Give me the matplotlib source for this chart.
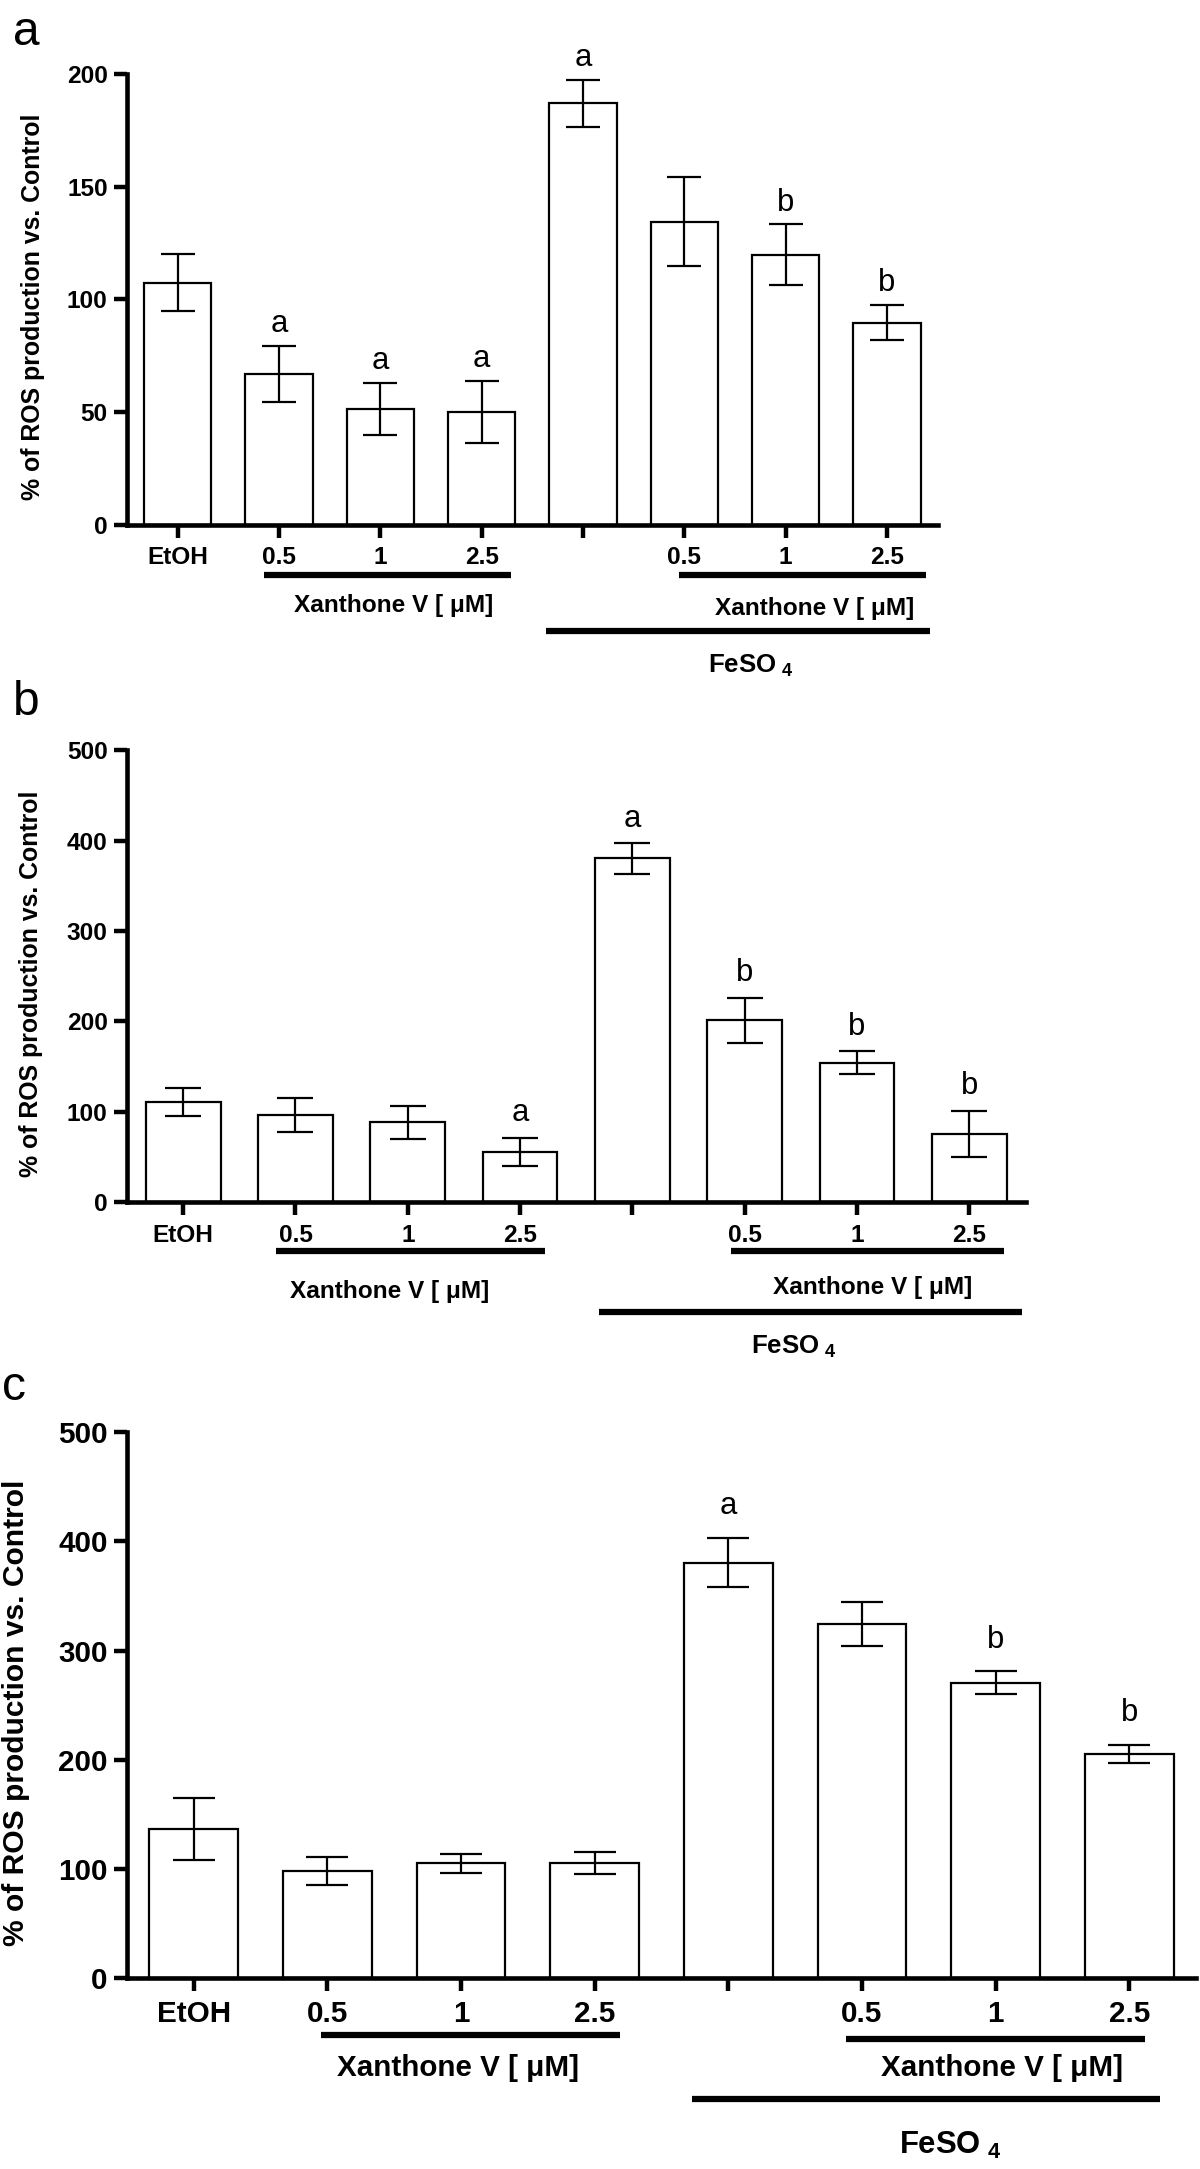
import numpy as np
import matplotlib
matplotlib.use('Agg')
import matplotlib.pyplot as plt

plt.rcParams['font.family'] = ['Liberation Sans', 'DejaVu Sans']
plt.rcParams['mathtext.fontset'] = 'custom'
plt.rcParams['mathtext.rm'] = 'Liberation Sans'
plt.rcParams['mathtext.bf'] = 'Liberation Sans:bold'

# categories (the FeSO4 alone bar has no label)
groups = ['EtOH', '0.5', '1', '2.5', '', '0.5', '1', '2.5']

# panel a
ros_a = [107.4, 67.0, 51.4, 50.0, 186.8, 134.3, 119.8, 89.7]
err_a = [12.5, 12.4, 11.5, 13.8, 10.4, 19.7, 13.4, 7.7]
sig_a = ['', 'a', 'a', 'a', 'a', '', 'b', 'b']

# panel b
ros_b = [111.2, 96.3, 88.4, 55.3, 380.4, 201.1, 154.6, 75.6]
err_b = [15.3, 19.0, 18.3, 15.6, 16.8, 25.2, 12.4, 25.7]
sig_b = ['', '', '', 'a', 'a', 'b', 'b', 'b']

# panel c
ros_c = [136.7, 98.5, 105.2, 105.6, 380.5, 324.1, 270.6, 205.5]
err_c = [28.0, 12.7, 8.4, 10.0, 22.7, 20.3, 10.5, 8.1]
sig_c = ['', '', '', '', 'a', '', 'b', 'b']

ylab = '% of ROS production vs. Control'
xan = 'Xanthone V [ \u03bcM]'
feso = r'FeSO$_{\ \mathbf{4}}$'

W, H = 1200, 2169
fig = plt.figure(figsize=(W / 100, H / 100), dpi=100)


def px(x, y):
    # pixel position -> figure fraction
    return x / W, 1 - y / H


# layout of each panel, in pixels / axes fractions
panels = [
    dict(vals=ros_a, errs=err_a, sig=sig_a, ymax=200, step=50,
         rect=(127, 73.7, 937.5, 525), fs=17.6, cap=11.9, gap=10,
         lines=[(0.85, 3.29, -0.110), (4.95, 7.39, -0.111), (3.64, 7.43, -0.235)],
         texts=[(2.13, -0.179), (6.29, -0.186)], feso=(5.66, -0.312),
         label='a', lab_xy=(26, 44.6), ylab_xy=(33.5, 307)),
    dict(vals=ros_b, errs=err_b, sig=sig_b, ymax=500, step=100,
         rect=(127, 750.4, 1025.5, 1202.2), fs=17.6, cap=12.9, gap=12,
         lines=[(0.83, 3.22, -0.109), (4.88, 7.31, -0.109), (3.70, 7.47, -0.242)],
         texts=[(1.84, -0.198), (6.14, -0.189)], feso=(5.44, -0.320),
         label='b', lab_xy=(26, 714.7), ylab_xy=(31, 984)),
    dict(vals=ros_c, errs=err_c, sig=sig_c, ymax=500, step=100,
         rect=(127, 1432, 1196, 1978.4), fs=21.3, cap=15.0, gap=17,
         lines=[(0.95, 3.19, -0.104), (4.88, 7.12, -0.110), (3.73, 7.23, -0.220)],
         texts=[(1.98, -0.164), (6.05, -0.164)], feso=(5.66, -0.305),
         label='c', lab_xy=(14, 1399.6), ylab_xy=(15.7, 1713)),
]

x = np.arange(len(groups))

for p in panels:
    l, t, r, b = p['rect']
    ax = fig.add_axes([l / W, 1 - b / H, (r - l) / W, (b - t) / H])
    fs = p['fs']

    ax.bar(x, p['vals'], width=0.665, color='white', edgecolor='black',
           linewidth=1.6, zorder=2)
    ax.errorbar(x, p['vals'], yerr=p['errs'], fmt='none', ecolor='black',
                elinewidth=1.6, capsize=p['cap'], capthick=1.6, zorder=3)

    for xi, v, e, s in zip(x, p['vals'], p['errs'], p['sig']):
        if s:
            ax.annotate(s, (xi, v + e), xytext=(0, p['gap']),
                        textcoords='offset points', ha='center',
                        va='baseline', fontsize=22.3)

    ax.set_xlim(-0.5, 7.5)
    ax.set_ylim(0, p['ymax'])
    ax.set_xticks(x, groups, fontweight='bold', fontsize=fs)
    yt = np.arange(0, p['ymax'] + 1, p['step'])
    ax.set_yticks(yt, [str(v) for v in yt], fontweight='bold', fontsize=fs)
    ax.tick_params(direction='out', length=9.4, width=3.2, pad=4.5)
    ax.tick_params(axis='x', pad=6)

    for sp in ['top', 'right']:
        ax.spines[sp].set_visible(False)
    for sp in ['left', 'bottom']:
        ax.spines[sp].set_linewidth(3.3)

    tr = ax.get_xaxis_transform()
    for x0, x1, yy in p['lines']:
        ax.plot([x0, x1], [yy, yy], color='black', lw=4.5,
                solid_capstyle='butt', transform=tr, clip_on=False)
    for tx, ty in p['texts']:
        ax.text(tx, ty, xan, transform=tr, ha='center', va='center',
                fontsize=fs, fontweight='bold')
    ax.text(p['feso'][0], p['feso'][1], feso, transform=tr, ha='center',
            va='center', fontsize=fs + 1, fontweight='bold')

    fig.text(*px(*p['ylab_xy']), ylab, rotation=90, ha='center',
             va='center', fontsize=fs + 0.3, fontweight='bold')
    fig.text(*px(*p['lab_xy']), p['label'], ha='center', va='baseline',
             fontsize=34.5)

fig.savefig('out.png', dpi=100)
